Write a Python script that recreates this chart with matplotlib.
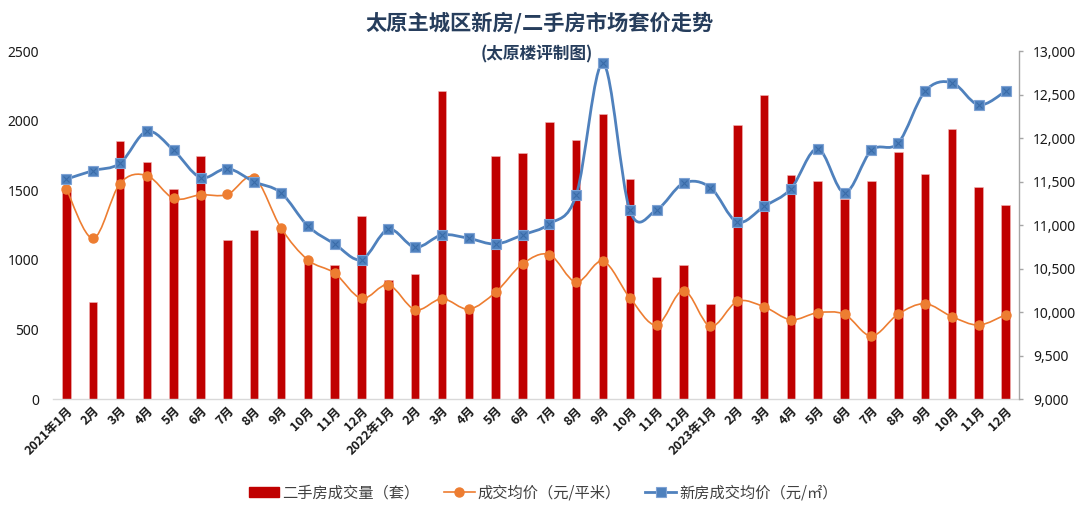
import numpy as np
import matplotlib
matplotlib.use("Agg")
import matplotlib.pyplot as plt
from matplotlib.path import Path
from matplotlib.patches import PathPatch
from matplotlib.lines import Line2D
from matplotlib.ticker import FuncFormatter

plt.rcParams['font.family'] = ['Noto Sans CJK SC', 'DejaVu Sans']
plt.rcParams['axes.unicode_minus'] = False

# Data
months = ['2021年1月', '2月', '3月', '4月', '5月', '6月', '7月', '8月', '9月', '10月', '11月', '12月',
          '2022年1月', '2月', '3月', '4月', '5月', '6月', '7月', '8月', '9月', '10月', '11月', '12月',
          '2023年1月', '2月', '3月', '4月', '5月', '6月', '7月', '8月', '9月', '10月', '11月', '12月']

volume = [1505, 695, 1855, 1705, 1512, 1748, 1146, 1215, 1225, 1008, 967, 1316,
          853, 900, 2218, 650, 1748, 1767, 1994, 1860, 2047, 1586, 879, 967,
          685, 1968, 2185, 1610, 1567, 1442, 1569, 1779, 1621, 1941, 1526, 1399]

resale_price = [11419, 10849, 11480, 11572, 11308, 11350, 11354, 11549, 10968, 10601, 10448, 10158,
                10314, 10028, 10154, 10035, 10230, 10555, 10662, 10345, 10586, 10165, 9852, 10249,
                9837, 10123, 10062, 9913, 9993, 9974, 9726, 9978, 10097, 9948, 9852, 9971]

new_price = [11530, 11629, 11713, 12080, 11862, 11549, 11652, 11499, 11373, 10991, 10784, 10605,
             10953, 10746, 10888, 10849, 10784, 10888, 11014, 11346, 12863, 11170, 11178, 11484,
             11434, 11037, 11216, 11419, 11881, 11373, 11862, 11946, 12542, 12641, 12385, 12542]

RED = '#C00000'
ORANGE = '#ED7D31'
BLUE = '#4F81BD'
NUM_FONT = ['Noto Sans', 'DejaVu Sans']


def smooth_path(x, y):
    # Excel-style smoothed line: Catmull-Rom segments as cubic Bezier
    pts = np.column_stack([x, y]).astype(float)
    n = len(pts)
    verts = [pts[0]]
    codes = [Path.MOVETO]
    for i in range(n - 1):
        p0 = pts[i - 1] if i > 0 else pts[i]
        p1 = pts[i]
        p2 = pts[i + 1]
        p3 = pts[i + 2] if i + 2 < n else pts[i + 1]
        c1 = p1 + (p2 - p0) / 6.0
        c2 = p2 - (p3 - p1) / 6.0
        verts += [c1, c2, p2]
        codes += [Path.CURVE4] * 3
    return Path(verts, codes)


x = np.arange(len(months))

fig = plt.figure(figsize=(10.8, 5.09), dpi=100)
ax = fig.add_axes([0.049, 0.216, 0.8945, 0.683])
ax2 = ax.twinx()

# bars
ax.bar(x, volume, width=0.32, color=RED, edgecolor='#F2B8B8', linewidth=0.4, zorder=2)
ax.set_ylim(0, 2500)
ax.set_yticks([0, 500, 1000, 1500, 2000, 2500])
ax.set_xlim(-0.5, len(months) - 0.5)
ax.set_xticks(x)
ax.set_xticklabels(months, rotation=45, ha='right', rotation_mode='anchor',
                   fontsize=9, fontweight='bold', color='#1a1a1a')
ax.tick_params(axis='x', length=0, pad=4)
ax.tick_params(axis='y', length=0, pad=10, labelsize=10, labelcolor='#1a1a1a')
for lbl in ax.get_yticklabels():
    lbl.set_fontweight('bold')
    lbl.set_family(NUM_FONT)
for s in ['top', 'left', 'right']:
    ax.spines[s].set_visible(False)
ax.spines['bottom'].set_color('#D9D9D9')
ax.spines['bottom'].set_linewidth(1.0)

# lines on right axis
ax2.set_ylim(9000, 13000)
ax2.set_yticks(np.arange(9000, 13001, 500))
ax2.yaxis.set_major_formatter(FuncFormatter(lambda v, p: f'{int(v):,}'))
ax2.tick_params(axis='y', length=3, width=1, color='#A6A6A6', pad=7, labelsize=10, labelcolor='#1a1a1a')
for lbl in ax2.get_yticklabels():
    lbl.set_fontweight('bold')
    lbl.set_family(NUM_FONT)
for s in ['top', 'left', 'bottom']:
    ax2.spines[s].set_visible(False)
ax2.spines['right'].set_color('#A6A6A6')
ax2.spines['right'].set_linewidth(1.0)

ax2.add_patch(PathPatch(smooth_path(x, resale_price), facecolor='none', edgecolor=ORANGE,
                        linewidth=1.2, zorder=3))
ax2.plot(x, resale_price, linestyle='none', marker='o', markersize=6.5,
         color=ORANGE, markeredgecolor=ORANGE, zorder=4)

ax2.add_patch(PathPatch(smooth_path(x, new_price), facecolor='none', edgecolor=BLUE,
                        linewidth=2.0, zorder=5))
ax2.plot(x, new_price, linestyle='none', marker='s', markersize=7,
         color=BLUE, markeredgecolor='#7FA3D4', markeredgewidth=0.8, zorder=6)
ax2.plot(x, new_price, linestyle='none', marker='x', markersize=5,
         color='#3A6BA8', markeredgewidth=0.8, zorder=7)

# titles
fig.text(0.5, 0.955, '太原主城区新房/二手房市场套价走势', ha='center', va='center',
         fontsize=15.3, fontweight='bold', color='#263D5C')
fig.text(0.497, 0.893, '(太原楼评制图)', ha='center', va='center',
         fontsize=12, fontweight='bold', color='#263D5C')

# legend
handles = [
    plt.Rectangle((0, 0), 1, 1, color=RED),
    Line2D([0], [0], color=ORANGE, linewidth=1.2, marker='o', markersize=6.5),
    Line2D([0], [0], color=BLUE, linewidth=2.0, marker='s', markersize=7,
           markeredgecolor='#7FA3D4', markeredgewidth=0.8),
]
labels = ['二手房成交量（套）', '成交均价（元/平米）', '新房成交均价（元/㎡）']
leg = fig.legend(handles, labels, loc='center', bbox_to_anchor=(0.503, 0.032), ncol=3,
                 frameon=False, fontsize=11, handlelength=2.0, columnspacing=1.6,
                 handletextpad=0.2)
for t in leg.get_texts():
    t.set_color('#404040')

fig.savefig('out.png', dpi=100, facecolor='white')
